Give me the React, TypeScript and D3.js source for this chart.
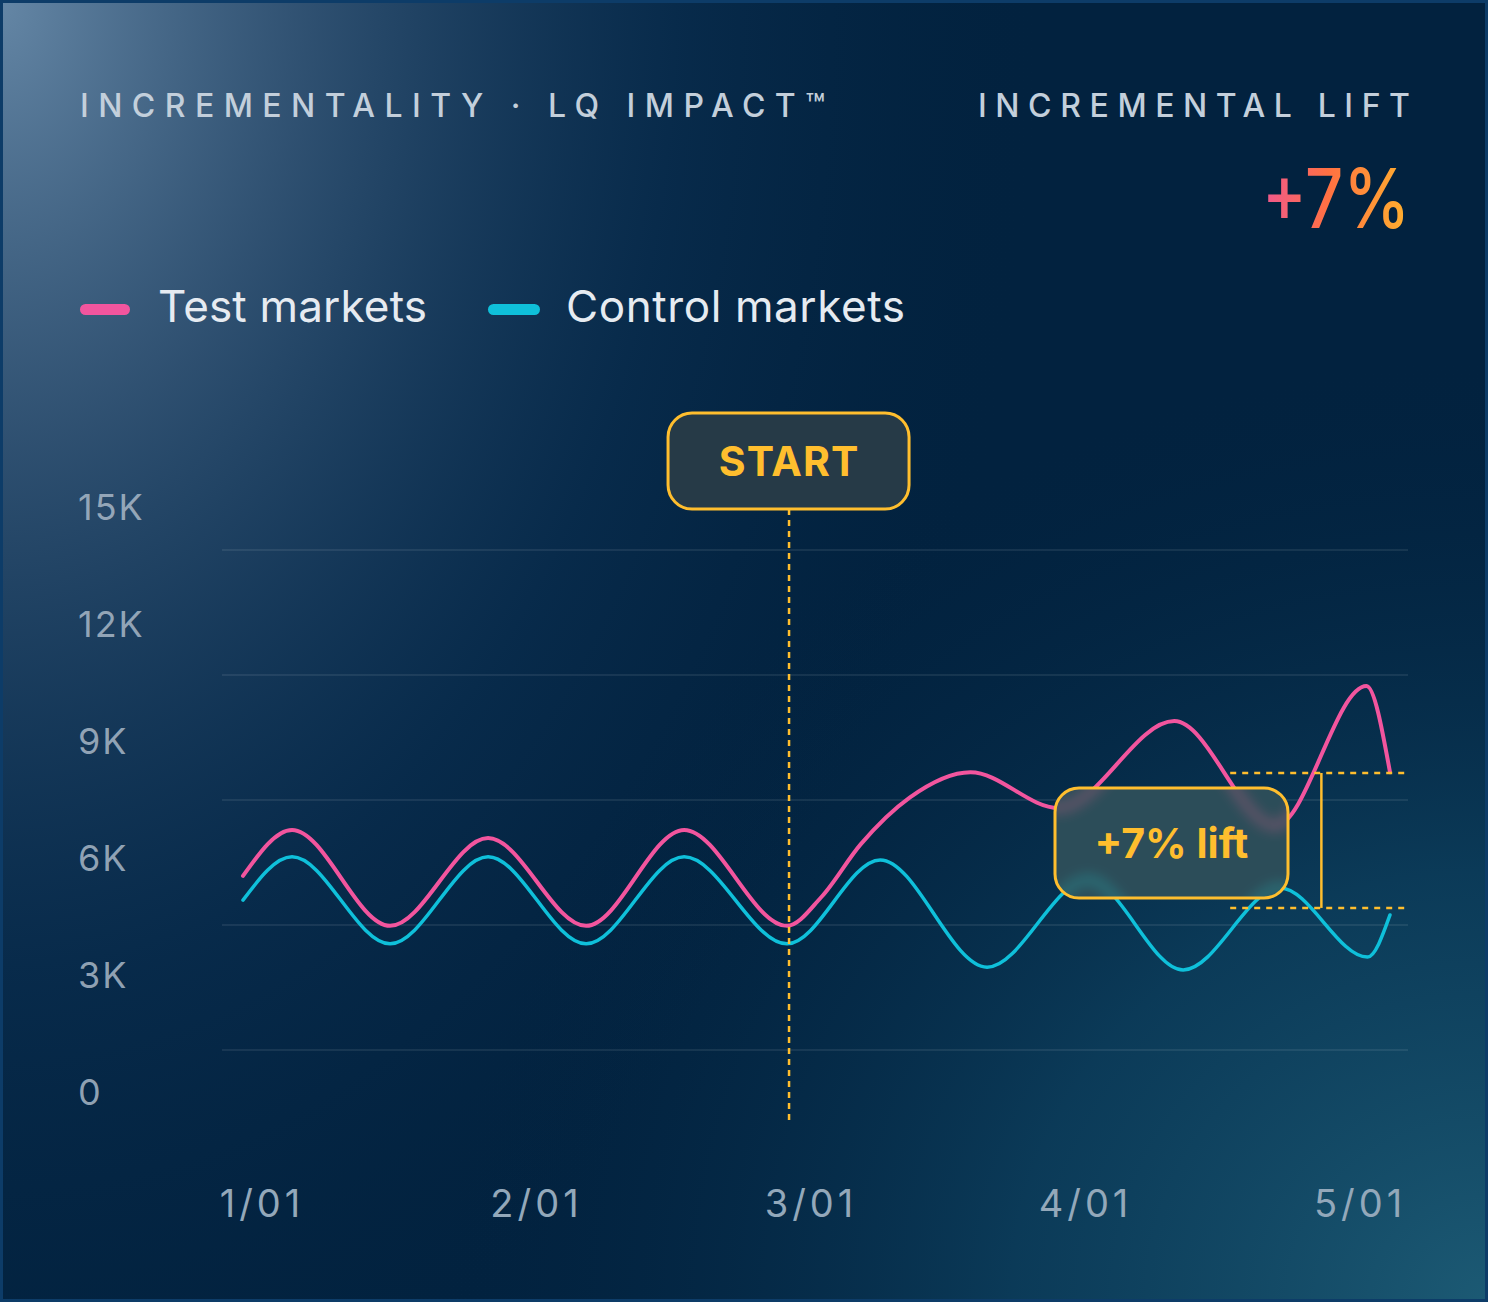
import React from "react";
import * as d3 from "d3";

// ---------- data ----------
const testDays = [0, 5, 15, 25, 35, 45, 55.5, 59, 63, 68, 74.2, 83.2, 95, 105.3, 114.6, 117];
const testValues = [5540, 6720, 4260, 6510, 4260, 6720, 4260, 5000, 6350, 7550, 8200, 7280, 9510, 6820, 10410, 8200];
const controlDays = [0, 5, 15, 25, 35, 45, 55.5, 65, 75.9, 86.2, 95.9, 105.8, 114.7, 117];
const controlValues = [4920, 6030, 3800, 6030, 3800, 6030, 3800, 5950, 3200, 5440, 3130, 5230, 3460, 4540];
const yTickLabels = ["15K", "12K", "9K", "6K", "3K", "0"];
const xTickLabels = ["1/01", "2/01", "3/01", "4/01", "5/01"];
const startDay = 55.7;
const liftDay = 110;
const liftFromDay = 100.7;
const liftTestValue = 8180;
const liftControlValue = 4720;
const liftLabel = "+7% lift";
const liftHeadline = "+7%";
const seriesNames = ["Test markets", "Control markets"];

// ---------- layout ----------
const W = 1488;
const H = 1302;
const PINK = "#f2559e";
const CYAN = "#0fc0da";
const AMBER = "#ffbe2e";

export default function App() {
  const x = d3.scaleLinear().domain([0, 117]).range([243, 1390]);
  const y = d3.scaleLinear().domain([0, 15000]).range([1092, 507]);
  const grid = d3.scaleLinear().domain([0, 4]).range([550, 1050]);
  const yLab = d3.scalePoint<string>().domain(yTickLabels).range([507, 1092]);
  const xLab = d3.scalePoint<string>().domain(xTickLabels).range([262, 1360]);

  const line = d3
    .line<[number, number]>()
    .x((d) => x(d[0]))
    .y((d) => y(d[1]))
    .curve(d3.curveMonotoneX);

  const testPts = testDays.map((d, i) => [d, testValues[i]] as [number, number]);
  const ctrlPts = controlDays.map((d, i) => [d, controlValues[i]] as [number, number]);
  const testPath = line(testPts) || "";
  const ctrlPath = line(ctrlPts) || "";

  const startX = x(startDay);
  const liftX = x(liftDay);
  const liftTopY = y(liftTestValue);
  const liftBotY = y(liftControlValue);

  const startBox = { x: startX - 121, y: 413, w: 241, h: 96 };
  const liftBox = { x: 1055, y: 788, w: 233, h: 110 };

  const font = "Inter, 'Noto Sans', sans-serif";

  return (
    <svg
      width={W}
      height={H}
      viewBox={`0 0 ${W} ${H}`}
      style={{ position: "absolute", left: 0, top: 0, display: "block" }}
      fontFamily={font}
    >
      <defs>
        <radialGradient id="tl" cx="0" cy="0" r="1" gradientUnits="userSpaceOnUse" gradientTransform="translate(0 0) scale(1050 1500)">
          <stop offset="0" stopColor="#6a8cab" stopOpacity="0.95" />
          <stop offset="0.3" stopColor="#3f6183" stopOpacity="0.72" />
          <stop offset="0.65" stopColor="#123a60" stopOpacity="0.35" />
          <stop offset="1" stopColor="#02223f" stopOpacity="0" />
        </radialGradient>
        <radialGradient id="br" cx="0" cy="0" r="1" gradientUnits="userSpaceOnUse" gradientTransform="translate(1488 1302) scale(1050 950)">
          <stop offset="0" stopColor="#1c5a74" stopOpacity="1" />
          <stop offset="0.45" stopColor="#0f4563" stopOpacity="0.7" />
          <stop offset="1" stopColor="#02223f" stopOpacity="0" />
        </radialGradient>
        <linearGradient id="headline" x1="0" y1="0" x2="1" y2="0">
          <stop offset="0" stopColor="#f0588f" />
          <stop offset="0.45" stopColor="#ff7142" />
          <stop offset="1" stopColor="#ffb12e" />
        </linearGradient>
        <clipPath id="liftClip">
          <rect x={liftBox.x} y={liftBox.y} width={liftBox.w} height={liftBox.h} rx={24} />
        </clipPath>
        <filter id="blur" x="-20%" y="-20%" width="140%" height="140%">
          <feGaussianBlur stdDeviation="7" />
        </filter>
      </defs>

      {/* background */}
      <rect x={0} y={0} width={W} height={H} fill="#02223f" />
      <rect x={0} y={0} width={W} height={H} fill="url(#br)" />
      <rect x={0} y={0} width={W} height={H} fill="url(#tl)" />
      <rect x={1.5} y={1.5} width={W - 3} height={H - 3} fill="none" stroke="#0d3c68" strokeWidth={3} />

      {/* header */}
      <text x={80} y={117} fontSize={32} fontWeight={500} fill="#c3cfdb" textLength={745} lengthAdjust="spacing">
        INCREMENTALITY · LQ IMPACT™
      </text>
      <text x={978} y={117} fontSize={32} fontWeight={500} fill="#c3cfdb" textLength={432} lengthAdjust="spacing">
        INCREMENTAL LIFT
      </text>
      <text x={1262} y={228} fontSize={82} fontWeight={500} fill="url(#headline)" textLength={148} lengthAdjust="spacingAndGlyphs">
        {liftHeadline}
      </text>

      {/* legend */}
      <rect x={80} y={304} width={50} height={11} rx={5.5} fill={PINK} />
      <text x={158} y={322} fontSize={44} fill="#e6ebf1" textLength={269} lengthAdjust="spacing">
        {seriesNames[0]}
      </text>
      <rect x={488} y={304} width={52} height={11} rx={5.5} fill={CYAN} />
      <text x={566} y={322} fontSize={44} fill="#e6ebf1" textLength={339} lengthAdjust="spacing">
        {seriesNames[1]}
      </text>

      {/* y labels */}
      {yTickLabels.map((t) => (
        <text key={t} x={78} y={yLab(t)} dy="0.36em" fontSize={36} fill="#a9b8c7" fillOpacity={0.85} letterSpacing={2}>
          {t}
        </text>
      ))}

      {/* gridlines */}
      {d3.range(5).map((i) => (
        <line key={i} x1={222} x2={1408} y1={grid(i)} y2={grid(i)} stroke="#ffffff" strokeOpacity={0.08} strokeWidth={2} />
      ))}

      {/* x labels */}
      {xTickLabels.map((t) => (
        <text key={t} x={xLab(t)} y={1203} dy="0.36em" fontSize={38} fill="#93a8ba" textAnchor="middle" letterSpacing={4}>
          {t}
        </text>
      ))}

      {/* series */}
      <path d={ctrlPath} fill="none" stroke={CYAN} strokeWidth={3.5} strokeLinecap="round" />
      <path d={testPath} fill="none" stroke={PINK} strokeWidth={4} strokeLinecap="round" />

      {/* start marker */}
      <line x1={startX} x2={startX} y1={startBox.y + startBox.h} y2={1122} stroke={AMBER} strokeWidth={2.5} strokeDasharray="6 5" />
      <rect x={startBox.x} y={startBox.y} width={startBox.w} height={startBox.h} rx={24} fill="#263a47" stroke={AMBER} strokeWidth={3} />
      <text x={startX} y={startBox.y + startBox.h / 2} dy="0.36em" fontSize={41} fontWeight={700} fill={AMBER} textAnchor="middle" letterSpacing={1}>
        START
      </text>

      {/* lift annotation */}
      <line x1={x(liftFromDay)} x2={1410} y1={liftTopY} y2={liftTopY} stroke={AMBER} strokeWidth={2.5} strokeDasharray="6 6" />
      <line x1={x(liftFromDay)} x2={1410} y1={liftBotY} y2={liftBotY} stroke={AMBER} strokeWidth={2.5} strokeDasharray="6 6" />
      <line x1={liftX} x2={liftX} y1={liftTopY} y2={liftBotY} stroke={AMBER} strokeWidth={2.5} />

      <g clipPath="url(#liftClip)">
        <rect x={liftBox.x} y={liftBox.y} width={liftBox.w} height={liftBox.h} fill="#07365a" />
        <g filter="url(#blur)" opacity={0.75}>
          <path d={ctrlPath} fill="none" stroke={CYAN} strokeWidth={6} />
          <path d={testPath} fill="none" stroke={PINK} strokeWidth={6} />
        </g>
        <rect x={liftBox.x} y={liftBox.y} width={liftBox.w} height={liftBox.h} fill="#5a6a58" fillOpacity={0.45} />
      </g>
      <rect x={liftBox.x} y={liftBox.y} width={liftBox.w} height={liftBox.h} rx={24} fill="none" stroke={AMBER} strokeWidth={3} />
      <text x={liftBox.x + liftBox.w / 2} y={liftBox.y + liftBox.h / 2} dy="0.36em" fontSize={41} fontWeight={700} fill={AMBER} textAnchor="middle">
        {liftLabel}
      </text>
    </svg>
  );
}
